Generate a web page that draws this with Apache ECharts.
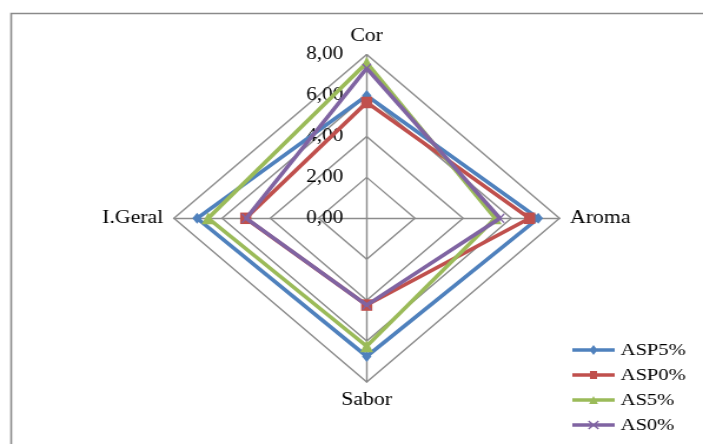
<!DOCTYPE html>
<html>
<head>
<meta charset="utf-8">
<script src="https://cdn.jsdelivr.net/npm/echarts@6/dist/echarts.min.js"></script>
<style>
html,body{margin:0;padding:0;background:#fff;overflow:hidden;}
#wrap{width:703px;height:444px;overflow:hidden;}
#chart{width:597px;height:444px;transform:scaleX(1.1776);transform-origin:0 0;}
</style>
</head>
<body>
<div id="wrap"><div id="chart"></div></div>
<script>
// ---- data ----
const categories = ['Cor', 'Aroma', 'Sabor', 'I.Geral'];
const seriesNames = ['ASP5%', 'ASP0%', 'AS5%', 'AS0%'];
const asp5 = [6.0, 7.12, 6.75, 7.04];
const asp0 = [5.66, 6.76, 4.24, 5.02];
const as5 = [7.6, 5.33, 6.25, 6.58];
const as0 = [7.33, 5.53, 4.24, 5.0];
const tickLabels = ['0,00', '2,00', '4,00', '6,00', '8,00'];
const axisMin = 0;
const axisMax = 8;

// ---- styles ----
const FONT = 'Liberation Serif';
const colors = ['#4F81BD', '#C0504D', '#9BBB59', '#8064A2'];
const symbols = [
  'diamond',
  'rect',
  'triangle',
  'path://M14.23,1.49L22.73,9.49L21.77,10.51L13.27,2.51ZM21.77,1.49L22.73,2.51L14.23,10.51L13.27,9.49Z'
];
const symbolSizes = [[8, 11], [9.5, 11.5], [11, 12], [8, 10]];
const anchor = 'M0,0L0,0ZM36,12L36,12Z';
const legendIcons = [
  'path://' + anchor + 'M0,4.25H15.79L18,1L20.21,4.25H36V7.75H20.21L18,11L15.79,7.75H0Z',
  'path://' + anchor + 'M0,4.25H15V2H21V4.25H36V7.75H21V10H15V7.75H0Z',
  'path://' + anchor + 'M0,4.25H16.93L18,2L19.07,4.25H36V7.75H20.73L21.8,10H14.2L15.27,7.75H0Z',
  'path://' + anchor + 'M0,4.25H36V7.75H0ZM14.23,1.49L22.73,9.49L21.77,10.51L13.27,2.51ZM21.77,1.49L22.73,2.51L14.23,10.51L13.27,9.49Z'
];

// order the indicators so they run clockwise from the top (ECharts places them counter-clockwise)
const drawOrder = [0, 3, 2, 1];
const values = [asp5, asp0, as5, as0];
const step = (axisMax - axisMin) / (tickLabels.length - 1);

const indicator = drawOrder.map((i, k) => {
  const o = { name: categories[i], min: axisMin, max: axisMax };
  if (k === 0) {
    o.axisLabel = {
      show: true,
      color: '#000',
      fontFamily: FONT,
      fontSize: 18,
      margin: 20,
      formatter: v => tickLabels[Math.round((v - axisMin) / step)]
    };
  }
  return o;
});

const series = values.map((vals, s) => ({
  type: 'radar',
  name: seriesNames[s],
  z: 2 + s,
  symbol: symbols[s],
  symbolSize: symbolSizes[s],
  symbolKeepAspect: false,
  lineStyle: { color: colors[s], width: 3.6 },
  itemStyle: { color: colors[s] },
  emphasis: { disabled: true },
  data: [{ name: seriesNames[s], value: drawOrder.map(i => vals[i]) }]
}));

const chart = echarts.init(document.getElementById('chart'), null, { renderer: 'canvas' });
chart.setOption({
  animation: false,
  backgroundColor: '#fff',
  graphic: [{
    type: 'rect',
    shape: { x: 9.5, y: 13.5, width: 700, height: 500 },
    style: { fill: 'none', stroke: '#8a8a8a', lineWidth: 1.6 },
    silent: true
  }],
  legend: {
    orient: 'vertical',
    left: 481,
    top: 336,
    itemWidth: 36,
    itemHeight: 12,
    itemGap: 7,
    symbolKeepAspect: false,
    textStyle: { color: '#000', fontFamily: FONT, fontSize: 17.5 },
    data: seriesNames.map((n, s) => ({ name: n, icon: legendIcons[s], itemStyle: { color: colors[s] } }))
  },
  radar: {
    center: [311.4, 218.3],
    radius: 163.7,
    startAngle: 90,
    splitNumber: tickLabels.length - 1,
    shape: 'polygon',
    nameGap: 9,
    axisName: { color: '#000', fontFamily: FONT, fontSize: 18.5 },
    axisLine: { lineStyle: { color: '#8c8c8c', width: 1.4 } },
    splitLine: { lineStyle: { color: '#8c8c8c', width: 1.4 } },
    splitArea: { show: false },
    axisTick: { show: false },
    axisLabel: { show: false },
    indicator: indicator
  },
  series: series
});
</script>
</body>
</html>
